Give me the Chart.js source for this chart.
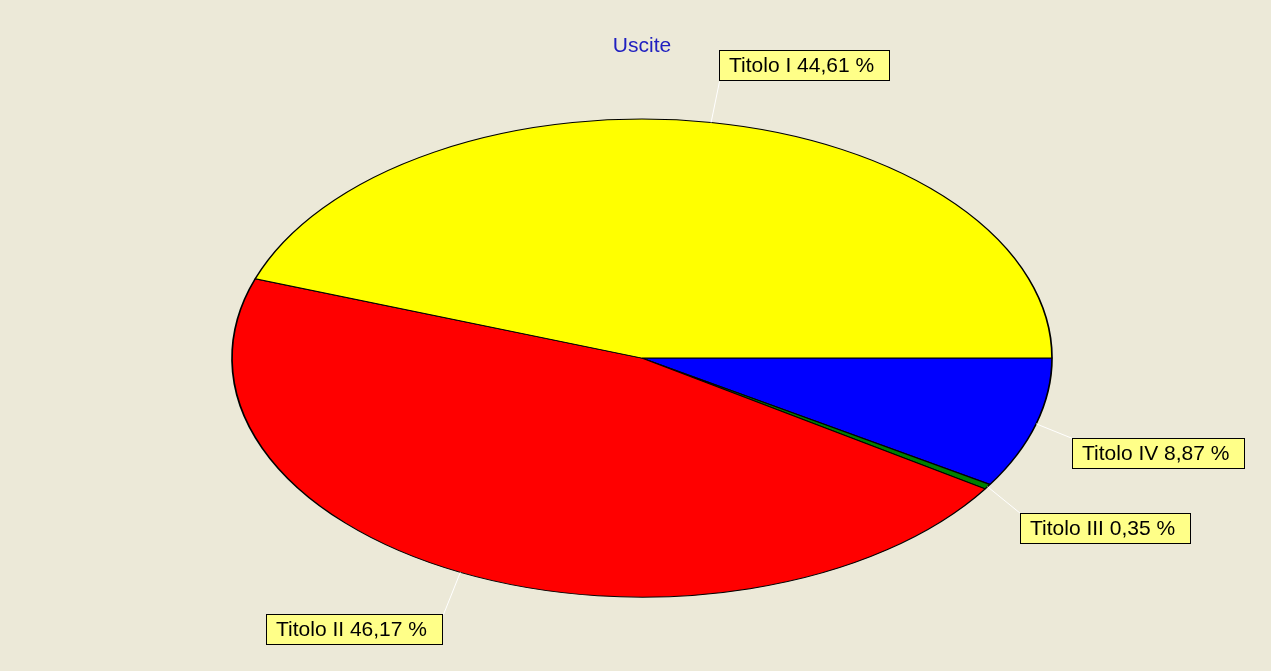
<!DOCTYPE html>
<html>
<head>
<meta charset="utf-8">
<title>Uscite</title>
<script src="https://cdn.jsdelivr.net/npm/chart.js@4/dist/chart.umd.min.js"></script>
<style>
  html, body { margin: 0; padding: 0; background: #ECE9D8; }
  .chart-wrapper { width: 1271px; height: 671px; }
</style>
</head>
<body>
<div class="chart-wrapper">
  <canvas id="chart"></canvas>
</div>
<script>
// data
const categories = ["Titolo I", "Titolo II", "Titolo III", "Titolo IV"];
const percentages = [44.61, 46.17, 0.35, 8.87];
const sliceColors = ["#FFFF00", "#FF0000", "#008000", "#0000FF"];

// label box position relative to the slice edge: [dx, dy, corner of box]
const labelOffsets = [
  [8, -42, "bottomLeft"],
  [-17, 42, "topRight"],
  [32, 26, "topLeft"],
  [36, 14, "topLeft"],
];

const FONT = "21px 'Liberation Sans', Arial, sans-serif";
const stretchX = 410 / 239; // the pie is drawn as an ellipse

// slices go counter-clockwise from 3 o'clock in the original, so feed them reversed
const order = categories.map((_, i) => i).reverse();

const ellipse = {
  id: "ellipse",
  beforeDatasetsDraw(chart) {
    const arc = chart.getDatasetMeta(0).data[0];
    const ctx = chart.ctx;
    ctx.save();
    ctx.translate(arc.x, arc.y);
    ctx.scale(stretchX, 1);
    ctx.translate(-arc.x, -arc.y);
  },
  afterDatasetsDraw(chart) {
    chart.ctx.restore();
  },
};

const sliceLabels = {
  id: "sliceLabels",
  afterDraw(chart) {
    const ctx = chart.ctx;
    const arcs = chart.getDatasetMeta(0).data;
    ctx.save();
    ctx.font = FONT;
    ctx.textBaseline = "middle";
    arcs.forEach((arc, j) => {
      const i = order[j];
      const mid = (arc.startAngle + arc.endAngle) / 2;
      const ex = arc.x + arc.outerRadius * stretchX * Math.cos(mid);
      const ey = arc.y + arc.outerRadius * Math.sin(mid);
      const text = categories[i] + " " + percentages[i].toFixed(2).replace(".", ",") + " %";
      const w = Math.round(ctx.measureText(text).width) + 26;
      const h = 31;
      const [dx, dy, corner] = labelOffsets[i];
      const ax = Math.round(ex + dx);
      const ay = Math.round(ey + dy);
      let left = ax, top = ay;
      if (corner === "bottomLeft") top = ay - h;
      if (corner === "topRight") left = ax - w;

      // leader line
      ctx.strokeStyle = "#FFFFFF";
      ctx.lineWidth = 1;
      ctx.beginPath();
      ctx.moveTo(ex, ey);
      ctx.lineTo(ax + 0.5, ay + 0.5);
      ctx.stroke();

      ctx.fillStyle = "#FFFF88";
      ctx.fillRect(left, top, w, h);
      ctx.strokeStyle = "#000000";
      ctx.strokeRect(left + 0.5, top + 0.5, w - 1, h - 1);
      ctx.fillStyle = "#000000";
      ctx.fillText(text, left + 10, top + h / 2 + 1);
    });
    ctx.restore();
  },
};

new Chart(document.getElementById("chart").getContext("2d"), {
  type: "pie",
  data: {
    labels: order.map((i) => categories[i]),
    datasets: [
      {
        data: order.map((i) => percentages[i]),
        backgroundColor: order.map((i) => sliceColors[i]),
        borderColor: "#000000",
        borderWidth: 1,
      },
    ],
  },
  options: {
    responsive: true,
    maintainAspectRatio: false,
    animation: false,
    radius: 239,
    rotation: 90,
    layout: {
      padding: { left: 13, right: 0, top: 0, bottom: 14 },
    },
    plugins: {
      legend: { display: false },
      tooltip: { enabled: false },
      title: {
        display: true,
        text: "Uscite",
        color: "#2020C0",
        font: { family: "'Liberation Sans', Arial, sans-serif", size: 21, weight: "normal" },
        padding: { top: 34, bottom: 0 },
      },
    },
  },
  plugins: [ellipse, sliceLabels],
});
</script>
</body>
</html>
